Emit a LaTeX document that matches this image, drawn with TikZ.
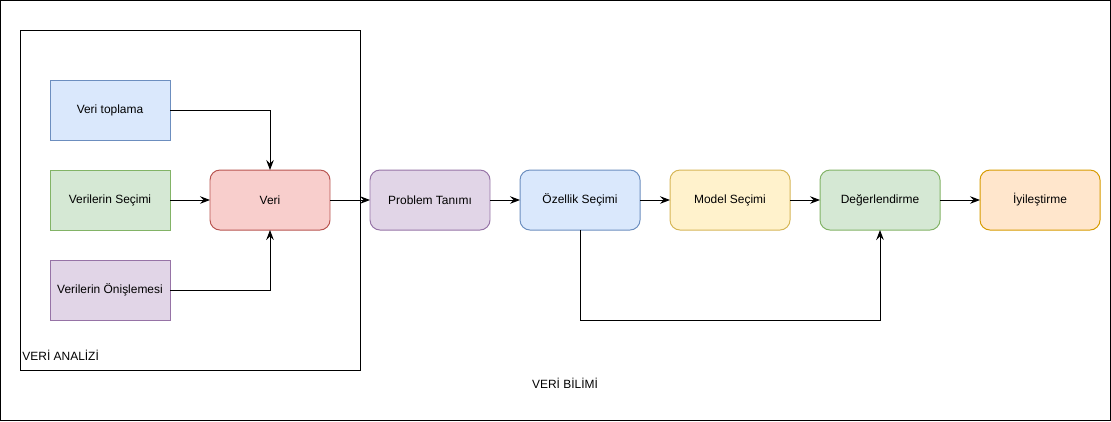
\documentclass[tikz,border=0pt]{standalone}
\usepackage{fontspec}
\setmainfont{Liberation Sans}
\usepackage{xcolor}
\usetikzlibrary{arrows.meta, positioning}

\definecolor{blueF}{HTML}{DAE8FC}\definecolor{blueD}{HTML}{6C8EBF}
\definecolor{greenF}{HTML}{D5E8D4}\definecolor{greenD}{HTML}{82B366}
\definecolor{redF}{HTML}{F8CECC}\definecolor{redD}{HTML}{B85450}
\definecolor{purpleF}{HTML}{E1D5E7}\definecolor{purpleD}{HTML}{9673A6}
\definecolor{yellowF}{HTML}{FFF2CC}\definecolor{yellowD}{HTML}{D6B656}
\definecolor{orangeF}{HTML}{FFE6CC}\definecolor{orangeD}{HTML}{D79B00}

\begin{document}
\begin{tikzpicture}[node distance=0.75cm, line width=0.7pt,
    font=\fontsize{8.5}{10}\selectfont,
    source/.style={rectangle, draw, minimum width=3cm, minimum height=1.5cm, align=center, outer sep=0pt},
    stage/.style={rectangle, draw, minimum width=3cm, minimum height=1.5cm, align=center, outer sep=0pt, rounded corners=0.25cm},
    container/.style={rectangle, draw, minimum width=8.5cm, minimum height=8.5cm, outer sep=0pt},
    arrow/.style={-{Stealth[length=2.5mm, width=1.9mm, inset=0.9mm]}}]

    \useasboundingbox (0,0) rectangle (27.775,-10.525);
    \draw (0.0125,-0.0125) rectangle (27.75,-10.5);

    % Veri analizi container
    \node[container] at (4.75,-5) (analiz_box) {};
    \node[anchor=west, inner sep=0pt] at (0.55,-8.875) (analiz_label) {VERİ ANALİZİ};

    % Data sources
    \node[source, fill=blueF, draw=blueD] at (2.75,-2.75) (toplama) {Veri toplama};
    \node[source, fill=greenF, draw=greenD, below=of toplama] (secim) {Verilerin Seçimi};
    \node[source, fill=purpleF, draw=purpleD, below=of secim] (onisleme) {Verilerin Önişlemesi};
    \node[stage, fill=redF, draw=redD, right=1cm of secim] (veri) {Veri};

    % Pipeline stages
    \node[stage, fill=purpleF, draw=purpleD, right=1cm of veri] (problem) {Problem Tanımı};
    \node[stage, fill=blueF, draw=blueD, right=of problem] (ozellik) {Özellik Seçimi};
    \node[stage, fill=yellowF, draw=yellowD, right=of ozellik] (model) {Model Seçimi};
    \node[stage, fill=greenF, draw=greenD, right=of model] (degerlendirme) {Değerlendirme};
    \node[stage, fill=orangeF, draw=orangeD, right=1cm of degerlendirme] (iyilestirme) {İyileştirme};

    \node at (14.125,-9.575) (bilim_label) {VERİ BİLİMİ};

    % Arrows
    \draw[arrow] (toplama.east) -| (veri.north);
    \draw[arrow] (secim.east) -- (veri.west);
    \draw[arrow] (onisleme.east) -| (veri.south);
    \draw[arrow] (veri) -- (problem);
    \draw[arrow] (problem) -- (ozellik);
    \draw[arrow] (ozellik) -- (model);
    \draw[arrow] (model) -- (degerlendirme);
    \draw[arrow] (degerlendirme) -- (iyilestirme);
    \draw[arrow] (ozellik.south) -- ++(0,-2.25) -| (degerlendirme.south);

\end{tikzpicture}
\end{document}
